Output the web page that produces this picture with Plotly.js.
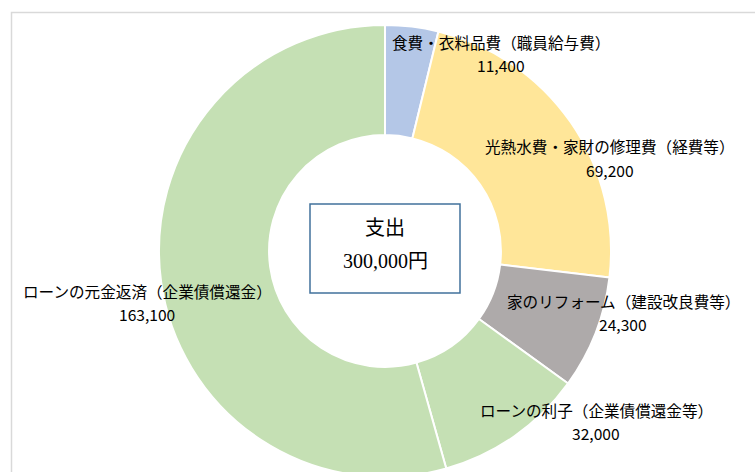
<!DOCTYPE html>
<html>
<head>
<meta charset="utf-8">
<script src="https://cdn.plot.ly/plotly-3.0.1.min.js"></script>
<style>
html,body{margin:0;padding:0;overflow:hidden;background:#fff;width:755px;height:472px;}
#chart{width:755px;height:490px;}
</style>
</head>
<body>
<div id="chart"></div>
<script>
const categories = [
  "食費・衣料品費（職員給与費）",
  "光熱水費・家財の修理費（経費等）",
  "家のリフォーム（建設改良費等）",
  "ローンの利子（企業債償還金等）",
  "ローンの元金返済（企業債償還金）"
];
const values = [11400, 69200, 24300, 32000, 163100];
const colors = ["#B4C7E7", "#FFE699", "#AEAAAA", "#C5E0B4", "#C5E0B4"];
const centerTitle = "支出";
const totalText = "300,000円";

const W = 755, H = 490;
const px = x => x / W;
const py = y => 1 - y / H;

// label placement (pixel centres of name line and value line)
const labelPos = [[501, 41.5, 64.5], [610, 146.5, 169.5], [623, 301, 324], [596, 410, 433], [147, 291, 314]];
const labelFont = {family: '"Noto Sans CJK JP", sans-serif', size: 15.6, color: '#000'};

const annotations = [];
categories.forEach((c, i) => {
  annotations.push({
    x: px(labelPos[i][0]), y: py(labelPos[i][1]),
    xref: 'paper', yref: 'paper', xanchor: 'center', yanchor: 'middle',
    text: c, showarrow: false, font: labelFont
  });
  annotations.push({
    x: px(labelPos[i][0]), y: py(labelPos[i][2]),
    xref: 'paper', yref: 'paper', xanchor: 'center', yanchor: 'middle',
    text: values[i].toLocaleString('en-US'), showarrow: false, font: labelFont
  });
});

const centerFont = {family: '"Liberation Serif", "Noto Sans CJK JP", serif', size: 20, color: '#000'};
annotations.push({
  x: px(385), y: py(228), xref: 'paper', yref: 'paper',
  xanchor: 'center', yanchor: 'middle', showarrow: false,
  text: centerTitle, font: centerFont
});
annotations.push({
  x: px(385), y: py(261), xref: 'paper', yref: 'paper',
  xanchor: 'center', yanchor: 'middle', showarrow: false,
  text: totalText, font: centerFont
});

const data = [{
  type: 'pie',
  labels: categories.map((c, i) => i + ':' + c),
  values: values,
  sort: false,
  direction: 'clockwise',
  rotation: 0,
  hole: 0.513,
  textinfo: 'none',
  hoverinfo: 'skip',
  marker: {colors: colors, line: {color: '#FFFFFF', width: 2}},
  domain: {x: [px(159), px(611)], y: [py(477), py(25)]},
  showlegend: false
}];

const layout = {
  width: W, height: H,
  margin: {l: 0, r: 0, t: 0, b: 0},
  paper_bgcolor: '#FFFFFF',
  showlegend: false,
  annotations: annotations,
  shapes: [
    {type: 'rect', xref: 'paper', yref: 'paper',
     x0: px(11.5), x1: px(800), y0: py(12.5), y1: py(560),
     line: {color: '#D9D9D9', width: 1.5}, layer: 'below'},
    {type: 'rect', xref: 'paper', yref: 'paper',
     x0: px(310), x1: px(460), y0: py(204), y1: py(293),
     line: {color: '#41719C', width: 1.5}, fillcolor: 'rgba(255,255,255,0)', layer: 'above'}
  ]
};

Plotly.newPlot('chart', data, layout, {staticPlot: true, displayModeBar: false});
</script>
</body>
</html>
